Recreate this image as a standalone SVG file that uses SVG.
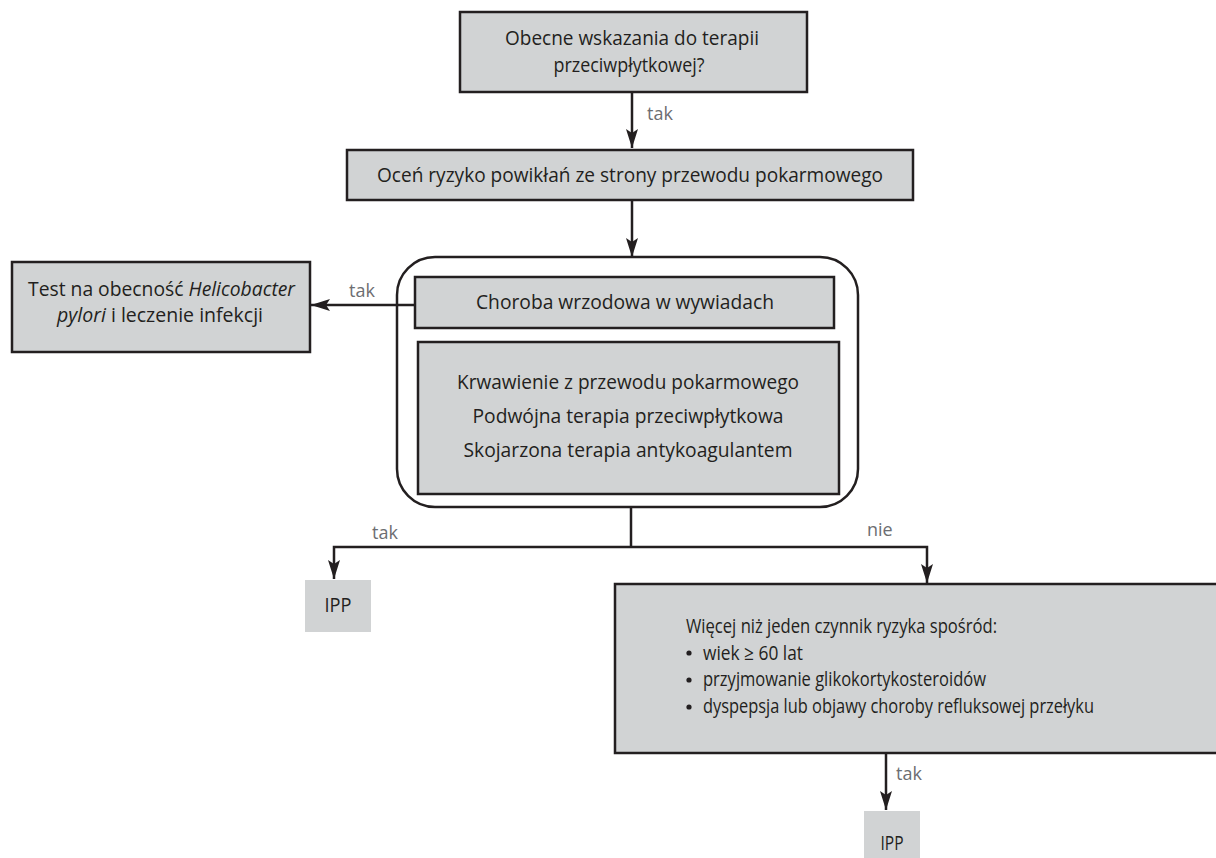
<svg xmlns="http://www.w3.org/2000/svg" width="1216" height="858" viewBox="0 0 1216 858">
<style>
.box{fill:#d1d3d4;stroke:#231f20;stroke-width:2.5}
.plain{fill:#d1d3d4;stroke:none}
.cont{fill:none;stroke:#231f20;stroke-width:2.5}
.t{font-family:"Open Sans","Noto Sans","DejaVu Sans",sans-serif;font-size:20px;fill:#231f20}
.c{text-anchor:middle}
.lbl{font-family:"Open Sans","Noto Sans","DejaVu Sans",sans-serif;font-size:18px;fill:#6d6e71}
.ln{fill:none;stroke:#231f20;stroke-width:2.5}
</style>
<defs>
<marker id="ah" markerUnits="userSpaceOnUse" markerWidth="20" markerHeight="14" viewBox="0 -7 20 14" refX="19" refY="0" orient="auto">
<path d="M0,-6 L19,0 L0,6 L4,0 z" fill="#231f20"/>
</marker>
</defs>
<rect width="1216" height="858" fill="#ffffff"/>

<g id="connectors">
<path class="ln" d="M632,92 V148" marker-end="url(#ah)"/>
<path class="ln" d="M632,200 V257" marker-end="url(#ah)"/>
<path class="ln" d="M415,305 H311" marker-end="url(#ah)"/>
<path class="ln" d="M631,507 V547"/>
<path class="ln" d="M631,547 H334 V579" marker-end="url(#ah)"/>
<path class="ln" d="M631,547 H927 V583" marker-end="url(#ah)"/>
<path class="ln" d="M886,753 V810" marker-end="url(#ah)"/>
<text class="lbl" x="647" y="120">tak</text>
<text class="lbl" x="349" y="297">tak</text>
<text class="lbl" x="372" y="539">tak</text>
<text class="lbl" x="867" y="536">nie</text>
<text class="lbl" x="896" y="780">tak</text>
</g>

<g id="n-start">
<rect class="box" x="460" y="12" width="347" height="80"/>
<text class="t c" x="632" y="45" textLength="254" lengthAdjust="spacingAndGlyphs">Obecne wskazania do terapii</text>
<text class="t c" x="629" y="72" textLength="151" lengthAdjust="spacingAndGlyphs">przeciwpłytkowej?</text>
</g>

<g id="n-assess">
<rect class="box" x="347" y="150" width="566" height="50"/>
<text class="t c" x="630" y="182" textLength="506" lengthAdjust="spacingAndGlyphs">Oceń ryzyko powikłań ze strony przewodu pokarmowego</text>
</g>

<g id="n-group">
<rect class="cont" x="397" y="257" width="461" height="250" rx="38" ry="38"/>
</g>

<g id="n-ulcer">
<rect class="box" x="415" y="277" width="419" height="51"/>
<text class="t c" x="625" y="309" textLength="298" lengthAdjust="spacingAndGlyphs">Choroba wrzodowa w wywiadach</text>
</g>

<g id="n-risk">
<rect class="box" x="418" y="342" width="421" height="152"/>
<text class="t c" x="628" y="389" textLength="342" lengthAdjust="spacingAndGlyphs">Krwawienie z przewodu pokarmowego</text>
<text class="t c" x="628" y="423" textLength="311" lengthAdjust="spacingAndGlyphs">Podwójna terapia przeciwpłytkowa</text>
<text class="t c" x="628" y="457" textLength="329" lengthAdjust="spacingAndGlyphs">Skojarzona terapia antykoagulantem</text>
</g>

<g id="n-hp">
<rect class="box" x="12" y="262" width="298" height="90"/>
<text class="t" x="28" y="296" font-size="19" textLength="267" lengthAdjust="spacingAndGlyphs">Test na obecność <tspan font-style="italic">Helicobacter</tspan></text>
<text class="t" x="57" y="322" font-size="19" textLength="206" lengthAdjust="spacingAndGlyphs"><tspan font-style="italic">pylori</tspan> i leczenie infekcji</text>
</g>

<g id="n-ipp1">
<rect class="plain" x="305" y="580" width="66" height="52"/>
<text class="t c" x="338" y="612" textLength="27" lengthAdjust="spacingAndGlyphs">IPP</text>
</g>

<g id="n-factors">
<rect class="box" x="615" y="584" width="603" height="169"/>
<text class="t" x="686" y="633" textLength="311" lengthAdjust="spacingAndGlyphs">Więcej niż jeden czynnik ryzyka spośród:</text>
<circle cx="689" cy="653" r="2.6" fill="#231f20"/>
<text class="t" x="703" y="660" textLength="100" lengthAdjust="spacingAndGlyphs">wiek ≥ 60 lat</text>
<circle cx="689" cy="680" r="2.6" fill="#231f20"/>
<text class="t" x="703" y="686" textLength="283" lengthAdjust="spacingAndGlyphs">przyjmowanie glikokortykosteroidów</text>
<circle cx="689" cy="707" r="2.6" fill="#231f20"/>
<text class="t" x="703" y="713" textLength="391" lengthAdjust="spacingAndGlyphs">dyspepsja lub objawy choroby refluksowej przełyku</text>
</g>

<g id="n-ipp2">
<rect class="plain" x="864" y="811" width="56" height="50"/>
<text class="t c" x="892" y="850" textLength="23" lengthAdjust="spacingAndGlyphs">IPP</text>
</g>
</svg>
